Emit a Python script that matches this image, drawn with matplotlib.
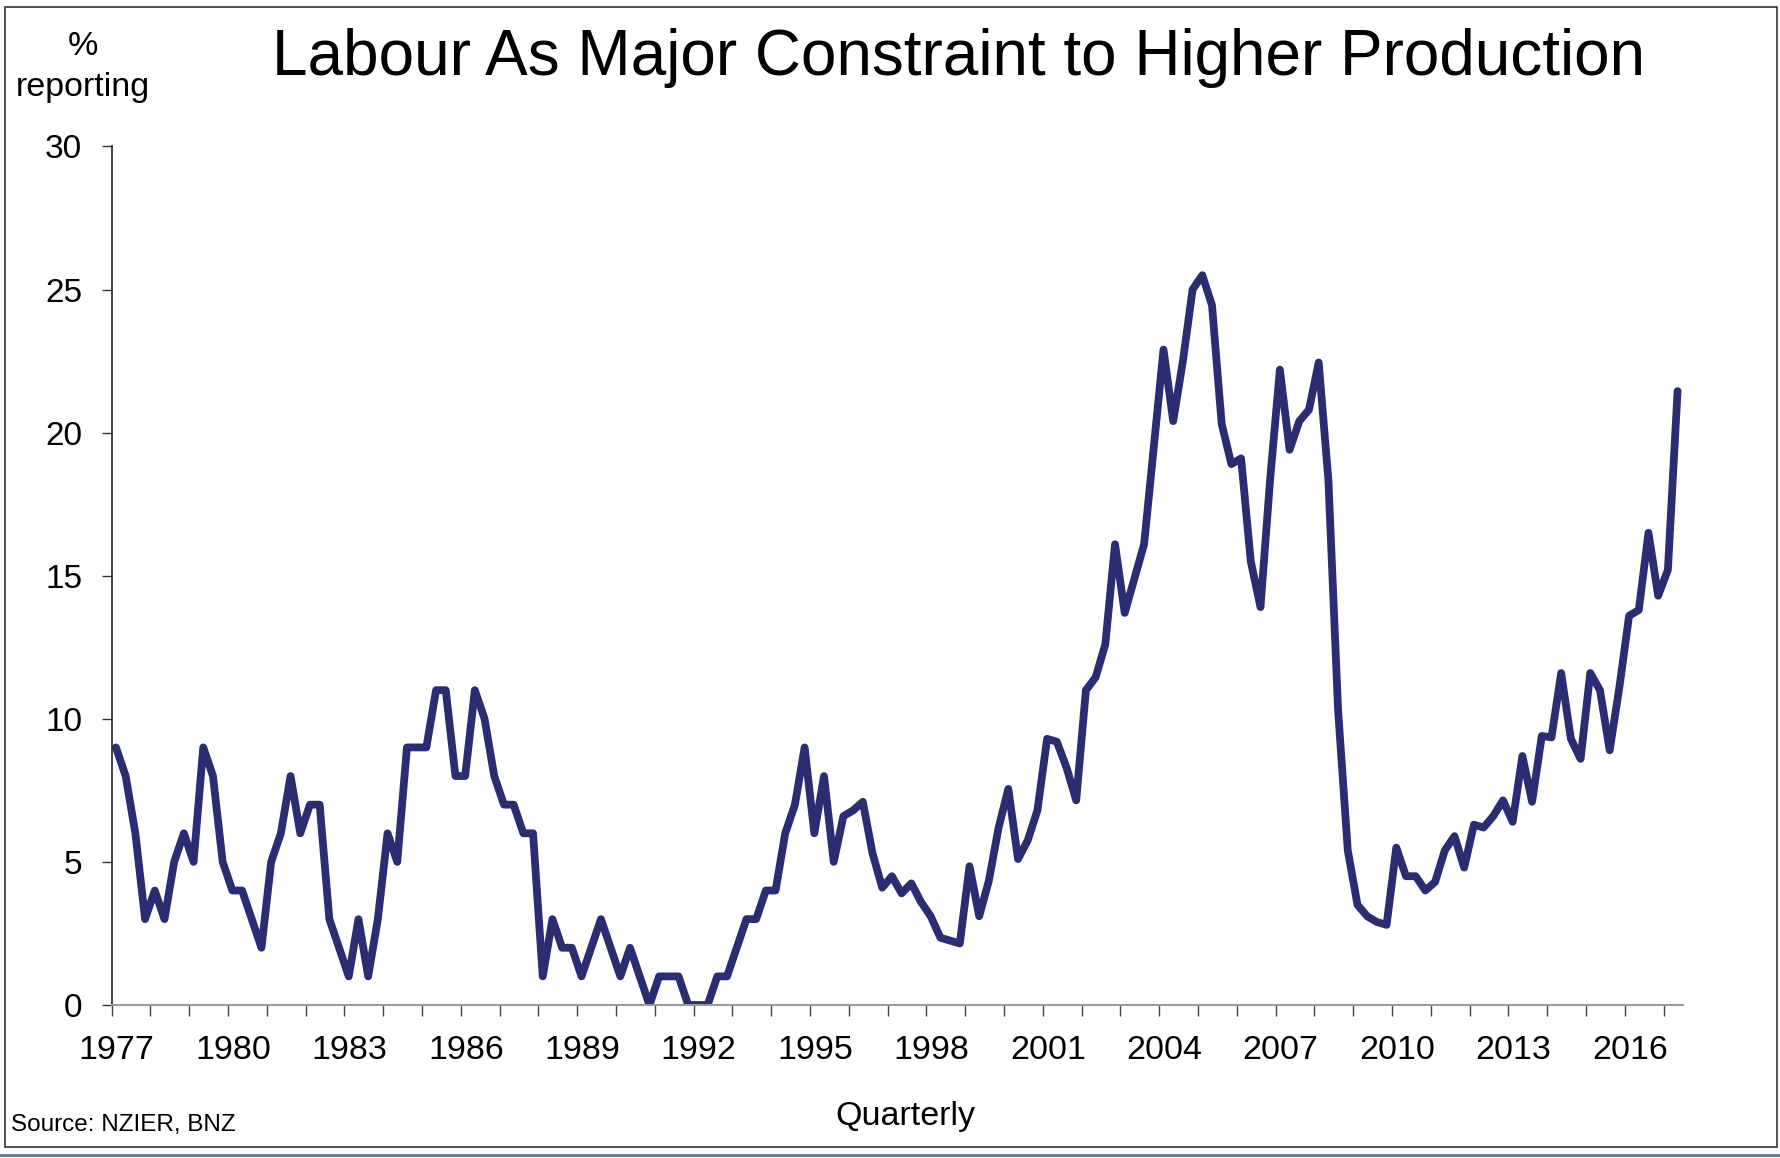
import numpy as np
import matplotlib
matplotlib.use("Agg")
import matplotlib.pyplot as plt
from matplotlib.transforms import ScaledTranslation
from matplotlib.patches import Rectangle
from matplotlib.lines import Line2D

plt.rcParams['font.family'] = ['Liberation Sans', 'DejaVu Sans']

# % of firms reporting labour as the major constraint, quarterly 1977 Q1 - 2017 Q2
labour = [
    9, 8, 6, 3, 4, 3, 5, 6, 5, 9, 8, 5, 4, 4, 3, 2, 5, 6, 8, 6, 7, 7, 3, 2, 1,
    3, 1, 3, 6, 5, 9, 9, 9, 11, 11, 8, 8, 11, 10, 8, 7, 7, 6, 6, 1, 3, 2, 2, 1,
    2, 3, 2, 1, 2, 1, 0, 1, 1, 1, 0, 0, 0, 1, 1, 2, 3, 3, 4, 4, 6, 7, 9, 6, 8, 5,
    6.6, 6.8, 7.1, 5.3, 4.1, 4.5, 3.9, 4.25, 3.6, 3.1, 2.35, 2.25, 2.15, 4.85, 3.1, 4.35,
    6.2, 7.55, 5.1, 5.75, 6.8, 9.3, 9.2, 8.3, 7.15, 11.0, 11.45, 12.6, 16.1, 13.7, 14.9, 16.1,
    19.5, 22.9, 20.4, 22.5, 25.0, 25.5, 24.45, 20.3, 18.9, 19.1, 15.5, 13.9, 18.4, 22.2,
    19.4, 20.4, 20.8, 22.45, 18.35,
    10.3, 5.4, 3.5, 3.1, 2.9, 2.8, 5.5, 4.5, 4.5, 4.0, 4.3, 5.4, 5.9, 4.8, 6.3, 6.2,
    6.6, 7.15, 6.4, 8.7, 7.1, 9.4, 9.35, 11.6, 9.3, 8.6, 11.6, 11.0, 8.9, 11.1, 13.6,
    13.8, 16.5, 14.3, 15.2, 21.45,
]
start_year = 1977
years = list(range(1977, 2018))
label_years = list(range(1977, 2017, 3))
yticks = [0, 5, 10, 15, 20, 25, 30]

x = start_year + 0.11 + 0.25 * np.arange(len(labour))

W, H = 1780, 1158
fig = plt.figure(figsize=(W / 100, H / 100), dpi=100)
ax = fig.add_axes([111.7 / W, 1 - 1005 / H, (1683 - 111.7) / W, (1005 - 146.4) / H])

ax.plot(x, labour, color='#2b2d72', lw=5.6, solid_joinstyle='round', solid_capstyle='round')

ax.set_xlim(1977, 2017.5)
ax.set_ylim(0, 30)
ax.set_yticks(yticks)
ax.set_xticks(years)
ax.set_xticklabels([str(y) if y in label_years else '' for y in years])

for s in ['top', 'right']:
    ax.spines[s].set_visible(False)
ax.spines['left'].set_color('#222222')
ax.spines['left'].set_linewidth(1.2)
ax.spines['bottom'].set_color('#9a9a9a')
ax.spines['bottom'].set_linewidth(1.5)

ax.tick_params(axis='y', direction='out', length=7.2, width=1, color='#333333',
               labelsize=24, pad=14)
ax.tick_params(axis='x', direction='out', length=7.6, width=1, color='#444444',
               labelsize=24.5, pad=14)
for lab in ax.get_xticklabels():
    lab.set_transform(lab.get_transform() + ScaledTranslation(0.05, 0, fig.dpi_scale_trans))

# titles and notes
fig.text(959 / W, 1 - 75 / H, 'Labour As Major Constraint to Higher Production',
         ha='center', va='baseline', fontsize=46)
fig.text(83 / W, 1 - 55 / H, '%', ha='center', va='baseline', fontsize=24.5)
fig.text(83 / W, 1 - 96 / H, 'reporting', ha='center', va='baseline', fontsize=24.5)
fig.text(905 / W, 1 - 1125 / H, 'Quarterly', ha='center', va='baseline', fontsize=24.5)
fig.text(11 / W, 1 - 1131 / H, 'Source: NZIER, BNZ', ha='left', va='baseline', fontsize=17.5)

# chart border
fig.patches.append(Rectangle((5 / W, 1 - 1147 / H), (1777 - 5) / W, (1147 - 7) / H,
                             transform=fig.transFigure, fill=False,
                             edgecolor='#333333', lw=1.2))
fig.lines.append(Line2D([0, 1], [1 - 1155 / H, 1 - 1155 / H], transform=fig.transFigure,
                        color='#5b7d9e', lw=2))

fig.savefig('out.png', dpi=100)
